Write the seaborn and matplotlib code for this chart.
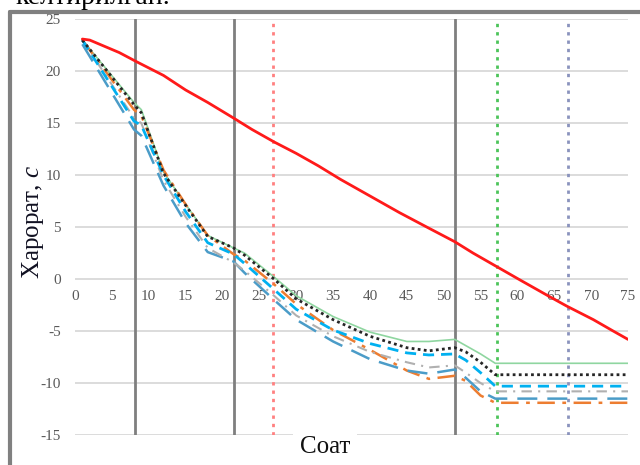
import numpy as np
import pandas as pd
import matplotlib
matplotlib.use("Agg")
import matplotlib.pyplot as plt
import seaborn as sns

# ---- data ----
x_red = [1, 2, 4, 6, 8.4, 12, 15, 18, 21.5, 24, 27, 30, 33, 36, 40, 44, 48, 51.5, 54, 57.2, 60.4, 64.4, 66.7, 70.3, 73, 75]
y_red = [23.1, 23.0, 22.4, 21.8, 20.9, 19.6, 18.2, 17.0, 15.5, 14.4, 13.2, 12.1, 10.9, 9.6, 8.0, 6.4, 4.9, 3.6, 2.5, 1.2, -0.1, -1.7, -2.6, -3.9, -5.0, -5.8]

x_obs = [1, 8, 9, 12, 15, 18, 21.5, 23, 27, 30, 35, 40, 45, 48, 51.5, 53, 55, 57, 75]
y_green  = [23.0, 17.0, 16.3, 10.3, 7.2, 4.2, 3.0, 2.5, 0.2, -1.6, -3.6, -5.1, -6.0, -6.0, -5.8, -6.4, -7.2, -8.1, -8.1]
y_black  = [23.0, 16.8, 16.0, 10.2, 7.1, 4.1, 3.0, 2.3, 0.0, -1.9, -3.9, -5.5, -6.6, -6.9, -6.6, -7.0, -8.0, -9.2, -9.2]
y_lblue  = [23.0, 15.2, 14.8, 10.0, 6.5, 3.5, 2.4, 1.5, -1.0, -2.9, -4.9, -6.2, -7.1, -7.3, -7.2, -7.8, -9.0, -10.3, -10.3]
y_gray   = [23.0, 15.5, 15.0, 9.5, 6.0, 3.0, 1.6, 0.8, -1.6, -3.5, -5.5, -7.0, -8.0, -8.5, -8.3, -9.0, -10.0, -10.8, -10.8]
y_teal   = [22.6, 14.4, 13.8, 9.0, 5.4, 2.6, 1.7, 0.6, -2.0, -3.9, -6.0, -7.7, -8.8, -9.1, -8.7, -9.5, -10.8, -11.5, -11.5]
y_orange = [23.0, 16.3, 15.7, 10.5, 7.2, 4.2, 2.4, 1.8, -0.5, -2.4, -4.9, -6.8, -8.8, -9.6, -9.3, -9.8, -11.2, -11.9, -11.9]

vlines_solid = [8.1, 21.6, 51.6]
vlines_dotted = [26.9, 57.3, 66.8]
vline_dot_colors = ["#ff8080", "#4cc45a", "#8a93bd"]

x_ticks = list(range(0, 80, 5))
y_ticks = list(range(-15, 30, 5))

# ---- plot ----
sns.set_style("white")
plt.rcParams['font.family'] = ['Liberation Serif', 'DejaVu Serif']
plt.rcParams['axes.unicode_minus'] = False
plt.rcParams['mathtext.fontset'] = 'custom'
plt.rcParams['mathtext.it'] = 'Liberation Serif:italic'
plt.rcParams['mathtext.rm'] = 'Liberation Serif'

fig = plt.figure(figsize=(6.4, 4.65), dpi=100)
ax = fig.add_axes([75/640, 1-435/465, (628-75)/640, (435-19.3)/465])
ax.set_xlim(0, 75)
ax.set_ylim(-15, 25)

for yv in y_ticks:
    ax.axhline(yv, color="#d9d9d9", lw=1.3, zorder=0)

for xv in vlines_solid:
    ax.axvline(xv, color="#7f7f7f", lw=2.0, zorder=1)
for xv, c in zip(vlines_dotted, vline_dot_colors):
    ax.axvline(xv, color=c, lw=2.0, ls=(0, (1.2, 1.8)), zorder=1)

styles = [
    (y_green, "#8fd6a0", 1.2, "-"),
    (y_orange, "#ed7d31", 1.8, (0, (7, 3, 1.5, 3))),
    (y_teal, "#4b9cc8", 1.8, (0, (8, 4))),
    (y_gray, "#b0b0b0", 1.5, (0, (5, 3, 1, 3))),
    (y_lblue, "#00b0f0", 2.0, (0, (4, 2.5))),
    (y_black, "#262626", 2.0, (0, (1, 1.2))),
]
for ys, c, lw, ls in styles:
    df = pd.DataFrame({"x": x_obs, "y": ys})
    sns.lineplot(data=df, x="x", y="y", ax=ax, color=c, lw=lw, linestyle=ls, zorder=3)

dfr = pd.DataFrame({"x": x_red, "y": y_red})
sns.lineplot(data=dfr, x="x", y="y", ax=ax, color="#ff1a1a", lw=2.0, zorder=4)

for s in ax.spines.values():
    s.set_visible(False)
ax.spines['bottom'].set_position(('data', 0))
ax.set_xticks(x_ticks)
ax.set_yticks(y_ticks)
ax.tick_params(axis='both', length=0, labelsize=11, labelcolor="#595959")
ax.tick_params(axis='x', pad=8)
ax.tick_params(axis='y', pad=10)
ax.set_xlabel("")
ax.set_ylabel("")
ax.grid(False)

# axis titles
fig.text(33/640, 1-222/465, "Харорат, $\\mathit{c}$", rotation=90, ha='center', va='center',
         fontsize=18, color="#111122")
fig.text(325/640, 1-447/465, "Соат", ha='center', va='center', fontsize=18,
         color="#111111", bbox=dict(facecolor='white', edgecolor='none', pad=5))

# outer document frame
fig.add_artist(plt.Line2D([10/640, 10/640], [0, 1-12/465], color="#808080", lw=3, transform=fig.transFigure))
fig.add_artist(plt.Line2D([10/640, 1], [1-12/465, 1-12/465], color="#808080", lw=3, transform=fig.transFigure))
# cut-off document text above
fig.text(15/640, 1-4/465, "келтирилган.", ha='left', va='baseline', fontsize=20, color="black")

fig.savefig("out.png", dpi=100)
